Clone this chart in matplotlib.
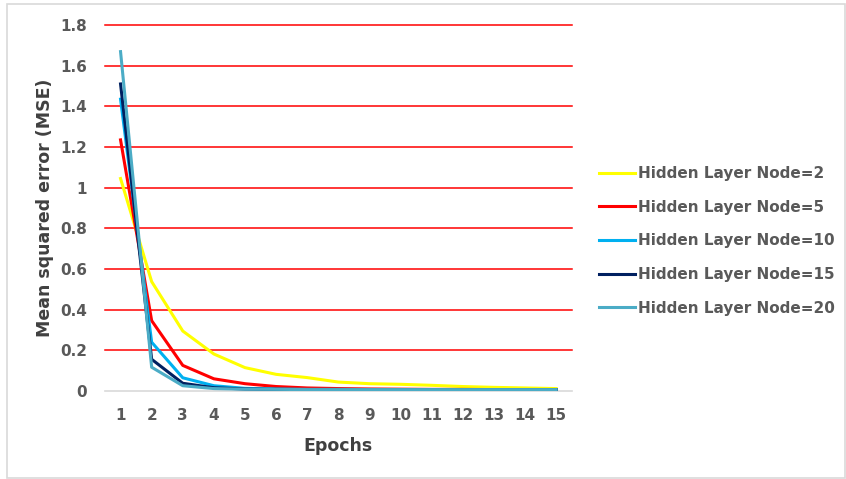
import matplotlib.pyplot as plt
from matplotlib.patches import Rectangle

epochs = list(range(1, 16))

mse_node2 = [1.045, 0.538, 0.295, 0.182, 0.115, 0.082, 0.066, 0.044, 0.036, 0.033, 0.028, 0.022, 0.018, 0.015, 0.012]
mse_node5 = [1.235, 0.346, 0.126, 0.060, 0.036, 0.022, 0.015, 0.012, 0.010, 0.009, 0.008, 0.008, 0.007, 0.007, 0.007]
mse_node10 = [1.435, 0.240, 0.065, 0.026, 0.013, 0.010, 0.008, 0.008, 0.007, 0.007, 0.007, 0.007, 0.007, 0.007, 0.007]
mse_node15 = [1.510, 0.156, 0.038, 0.016, 0.010, 0.008, 0.007, 0.007, 0.007, 0.007, 0.007, 0.007, 0.007, 0.007, 0.007]
mse_node20 = [1.669, 0.117, 0.026, 0.012, 0.009, 0.008, 0.007, 0.007, 0.007, 0.007, 0.007, 0.007, 0.007, 0.007, 0.007]

labels = ['Hidden Layer Node=2', 'Hidden Layer Node=5', 'Hidden Layer Node=10',
          'Hidden Layer Node=15', 'Hidden Layer Node=20']
colors = ['#FFFF00', '#FF0000', '#00B0F0', '#002060', '#4BACC6']

plt.rcParams['font.family'] = ['DejaVu Sans']
plt.rcParams['font.weight'] = 'bold'

fig = plt.figure(figsize=(8.46, 4.79), dpi=100)
ax = fig.add_axes([0.1241, 0.1837, 0.5516, 0.7641])

# light frame round the picture
fig.patches.append(Rectangle((7 / 846, 1 / 479), 838 / 846, 474 / 479,
                             transform=fig.transFigure, fill=False,
                             edgecolor='#d9d9d9', linewidth=1.2))

series = [mse_node2, mse_node5, mse_node10, mse_node15, mse_node20]
for vals, lab, col in zip(series, labels, colors):
    ax.plot(epochs, vals, color=col, linewidth=2.2, label=lab, zorder=3)

ax.set_xlim(0.5, 15.5)
ax.set_ylim(0, 1.8)
ax.set_xticks(epochs)
ax.set_yticks([0, 0.2, 0.4, 0.6, 0.8, 1.0, 1.2, 1.4, 1.6, 1.8])
ax.set_yticklabels(['0', '0.2', '0.4', '0.6', '0.8', '1', '1.2', '1.4', '1.6', '1.8'])

for y in [0.2, 0.4, 0.6, 0.8, 1.0, 1.2, 1.4, 1.6, 1.8]:
    ax.axhline(y, color='#FF0000', linewidth=1.1, zorder=1, clip_on=False)
ax.axhline(0, color='#d9d9d9', linewidth=1.2, zorder=1, clip_on=False)

for s in ax.spines.values():
    s.set_visible(False)
ax.tick_params(length=0, labelsize=11, labelcolor='#595959')
ax.tick_params(axis='y', pad=13)
ax.tick_params(axis='x', pad=12)

ax.set_xlabel('Epochs', fontsize=12.5, fontweight='bold', color='#404040', labelpad=10)
ax.set_ylabel('Mean squared error (MSE)', fontsize=12.5, fontweight='bold',
              color='#404040', labelpad=4)

leg = ax.legend(loc='center left', bbox_to_anchor=(1.045, 0.41), frameon=False,
                prop={'size': 11, 'weight': 'bold'}, handlelength=2.35,
                handletextpad=0.25, labelspacing=1.22, borderaxespad=0)
for t in leg.get_texts():
    t.set_color('#595959')

fig.savefig('out.png', dpi=100)
